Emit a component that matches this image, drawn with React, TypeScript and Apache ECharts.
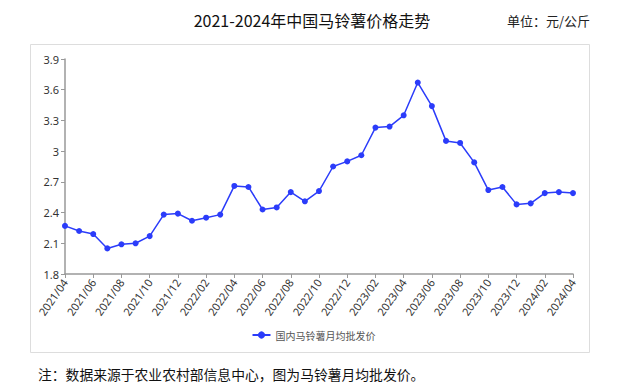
import React, { useEffect, useRef } from "react";
import * as echarts from "echarts";

const months: string[] = [
  "2021/04", "2021/05", "2021/06", "2021/07", "2021/08", "2021/09", "2021/10", "2021/11", "2021/12",
  "2022/01", "2022/02", "2022/03", "2022/04", "2022/05", "2022/06", "2022/07", "2022/08", "2022/09",
  "2022/10", "2022/11", "2022/12", "2023/01", "2023/02", "2023/03", "2023/04", "2023/05", "2023/06",
  "2023/07", "2023/08", "2023/09", "2023/10", "2023/11", "2023/12", "2024/01", "2024/02", "2024/03",
  "2024/04",
];

const prices: number[] = [
  2.27, 2.22, 2.19, 2.05, 2.09, 2.10, 2.17, 2.38, 2.39,
  2.32, 2.35, 2.38, 2.66, 2.65, 2.43, 2.45, 2.60, 2.51,
  2.61, 2.85, 2.90, 2.96, 3.23, 3.24, 3.35, 3.67, 3.44,
  3.10, 3.08, 2.89, 2.62, 2.65, 2.48, 2.49, 2.59, 2.60,
  2.59,
];

const seriesName = "国内马铃薯月均批发价";
const titleText = "2021-2024年中国马铃薯价格走势";
const unitText = "单位：元/公斤";
const noteText = "注：数据来源于农业农村部信息中心，图为马铃薯月均批发价。";

const FONT = "'Noto Sans', 'Noto Sans CJK SC', sans-serif";
const CJK = "'Noto Sans CJK SC', sans-serif";
const LINE_COLOR = "#2b3cfa";

export default function App() {
  const ref = useRef<HTMLDivElement>(null);
  useEffect(() => {
    if (!ref.current) return;
    const chart = echarts.init(ref.current, null, { renderer: "svg" });
    chart.setOption({
      animation: false,
      backgroundColor: "#fff",
      graphic: [
        {
          type: "rect",
          shape: { x: 30.5, y: 44.5, width: 559, height: 308 },
          style: { fill: "none", stroke: "#dddddd", lineWidth: 1 },
          z: -1,
        },
        {
          type: "text",
          x: 312,
          y: 20,
          style: {
            text: titleText,
            font: `16px ${CJK}`,
            fill: "#111",
            textAlign: "center",
            textVerticalAlign: "middle",
          },
        },
        {
          type: "text",
          x: 590,
          y: 20,
          style: {
            text: unitText,
            font: `13px ${CJK}`,
            fill: "#222",
            textAlign: "right",
            textVerticalAlign: "middle",
          },
        },
        {
          type: "text",
          x: 38,
          y: 374,
          style: {
            text: noteText,
            font: `13.8px ${CJK}`,
            fill: "#111",
            textAlign: "left",
            textVerticalAlign: "middle",
          },
        },
      ],
      legend: {
        data: [seriesName],
        left: "center",
        top: 325,
        itemWidth: 18,
        itemHeight: 9,
        itemGap: 5,
        textStyle: { fontSize: 10, color: "#555", fontFamily: CJK },
      },
      grid: { left: 65, right: 54, top: 59, bottom: 112, containLabel: false },
      xAxis: {
        type: "category",
        data: months,
        boundaryGap: false,
        axisLine: { lineStyle: { color: "#999", width: 1.5 } },
        axisTick: { interval: 1, length: 4, lineStyle: { color: "#999" } },
        axisLabel: {
          interval: 1,
          rotate: 55,
          fontSize: 11,
          color: "#333",
          fontFamily: FONT,
          margin: 6,
        },
        splitLine: { show: false },
      },
      yAxis: {
        type: "value",
        min: 1.8,
        max: 3.9,
        interval: 0.3,
        axisLine: { show: true, lineStyle: { color: "#999", width: 1.5 } },
        axisTick: { show: true, length: 4, lineStyle: { color: "#999" } },
        axisLabel: {
          fontSize: 11,
          color: "#333",
          fontFamily: FONT,
          margin: 6,
          formatter: (v: number) => String(Math.round(v * 10) / 10),
        },
        splitLine: { show: false },
      },
      series: [
        {
          name: seriesName,
          type: "line",
          data: prices,
          symbol: "circle",
          symbolSize: 6,
          lineStyle: { color: LINE_COLOR, width: 1.5 },
          itemStyle: { color: LINE_COLOR },
        },
      ],
    });
    return () => chart.dispose();
  }, []);
  return (
    <div
      ref={ref}
      style={{ position: "absolute", left: 0, top: 0, width: 627, height: 386 }}
    />
  );
}
